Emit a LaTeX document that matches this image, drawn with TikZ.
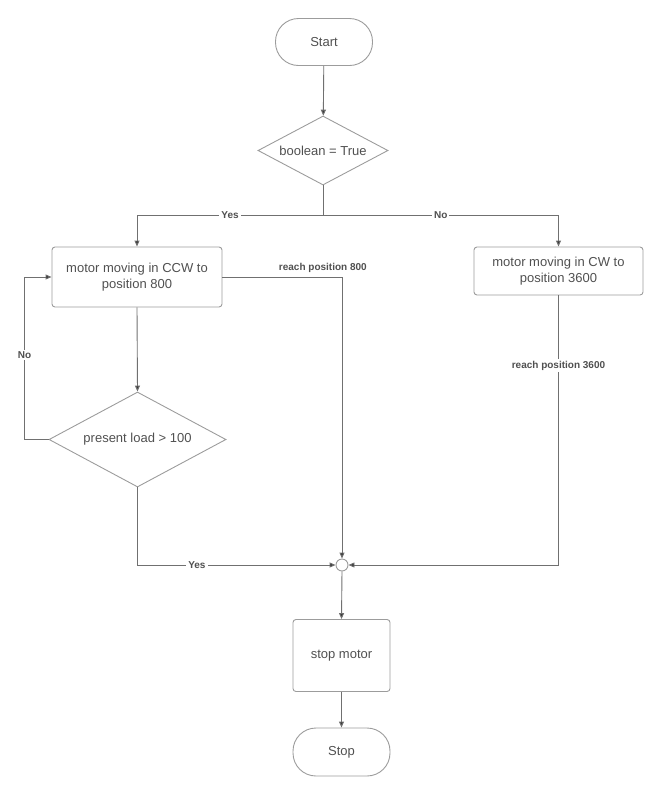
\documentclass[tikz,border=0pt]{standalone}
\usepackage{fontspec}
\setmainfont{Liberation Sans}
\usetikzlibrary{shapes.geometric,arrows.meta}
\definecolor{txtgray}{HTML}{505050}
\definecolor{boxgray}{HTML}{9C9C9C}
\definecolor{linegray}{HTML}{707070}
\definecolor{tipgray}{HTML}{3A3A3A}
\tikzset{
    base/.style={draw=boxgray,line width=0.9pt,text=txtgray,font=\fontsize{13}{16}\selectfont,align=center},
    terminal/.style={base,rounded corners=23pt,minimum width=97pt,minimum height=47pt},
    process/.style={base,rounded corners=3pt},
    decision/.style={base,diamond,aspect=1.88,inner sep=0pt},
    joint/.style={draw=boxgray,line width=0.9pt,fill=white,circle,minimum size=12pt,inner sep=0pt},
    conn/.style={draw=linegray,line width=0.9pt},
    arr/.style={conn,-{Triangle[length=6pt,width=5pt,fill=tipgray]}},
    lbl/.style={text=txtgray,font=\fontsize{10}{12}\selectfont\bfseries,inner sep=2pt}
}
\begin{document}
\begin{tikzpicture}
    [x=1pt,y=-1pt]
    \useasboundingbox (0,0) rectangle (668,796);
    %nodes
    \node[terminal] (start) at (324,42) {Start};
    \node[decision,minimum width=130pt,minimum height=69pt] (bool) at (323,150.5) {boolean = True};
    \coordinate (fork) at (323,215);
    \node[process,minimum width=170pt,minimum height=60pt] (ccw) at (137,277) {motor moving in CCW to\\position 800};
    \node[process,minimum width=169pt,minimum height=48pt] (cw) at (558.5,271) {motor moving in CW to\\position 3600};
    \node[decision,minimum width=177pt,minimum height=95pt] (load) at (137.5,439.5) {present load > 100};
    \node[joint] (join) at (342,565) {};
    \node[process,minimum width=97pt,minimum height=72pt] (halt) at (341.5,655.5) {stop motor};
    \node[terminal,minimum height=48pt] (stop) at (341.5,752) {Stop};
    %connectors
    \draw[arr] (start) -- (bool);
    \draw[conn] (bool.south) -- (fork);
    \draw[arr] (fork) -| node[lbl,pos=0.25,fill=white]{Yes} (ccw.north);
    \draw[arr] (fork) -| node[lbl,pos=0.25,fill=white]{No} (cw.north);
    \draw[arr] (ccw.east) -| node[lbl,pos=0.42,above,yshift=2pt]{reach position 800} (join.north);
    \draw[arr] (cw.south) |- node[lbl,pos=0.13,fill=white]{reach position 3600} (join.east);
    \draw[arr] (ccw.south) -- (load.north);
    \draw[arr] (load.west) -- ++(-24,0) |- node[lbl,pos=0.26,fill=white]{No} (ccw.west);
    \draw[arr] (load.south) |- node[lbl,pos=0.65,fill=white]{Yes} (join.west);
    \draw[arr] (join.south) -- (halt.north);
    \draw[arr] (halt) -- (stop);
\end{tikzpicture}
\end{document}
